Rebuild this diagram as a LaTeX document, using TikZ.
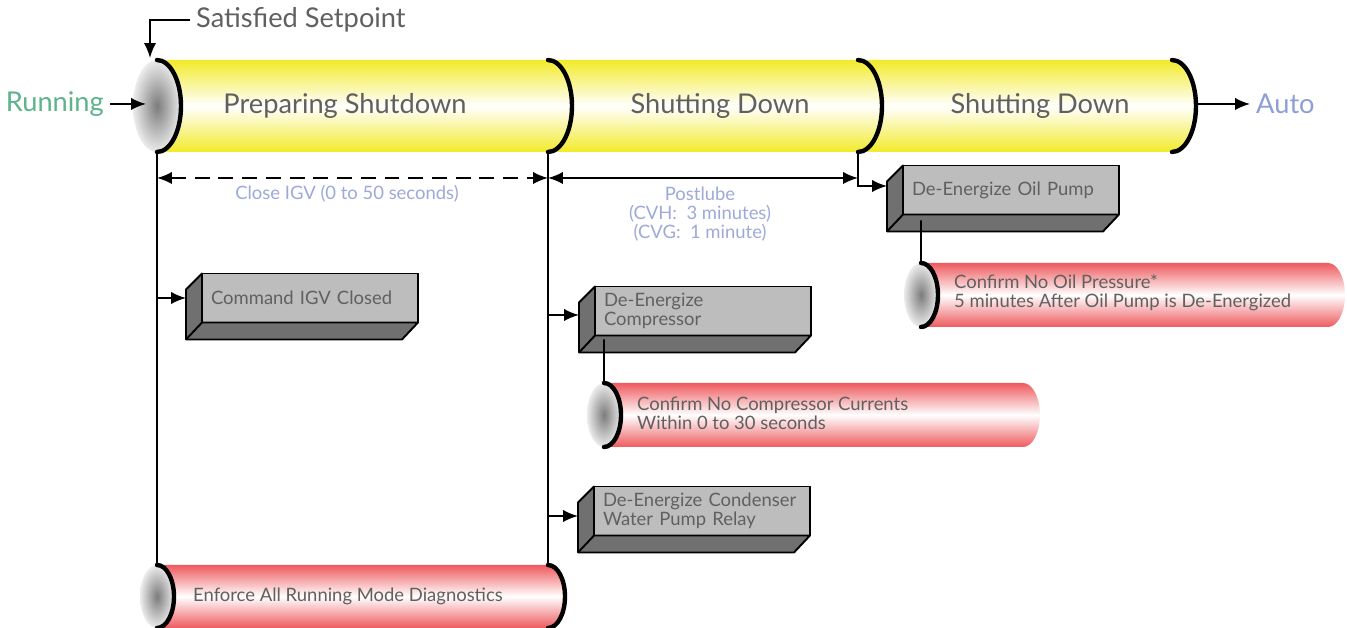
\documentclass[tikz,border=0pt]{standalone}
\usepackage{fontspec}
\setmainfont{Lato}
\usetikzlibrary{arrows.meta,positioning}
\definecolor{SDYellow}{HTML}{F2EA2A}
\definecolor{SDRed}{HTML}{EE5A5E}
\definecolor{SDCap}{HTML}{7C7C7C}
\definecolor{SDFront}{HTML}{BDBDBD}
\definecolor{SDSide}{HTML}{707070}
\definecolor{SDText}{HTML}{606060}
\definecolor{SDGreen}{HTML}{5DB38A}
\definecolor{SDBlue}{HTML}{8E9ED6}
\definecolor{SDNote}{HTML}{9DA9D8}
\begin{document}
\begin{tikzpicture}[x=0.02cm,y=0.02cm,
      >={Latex[length=8.5pt,width=7pt]},
      link/.style={->,line width=1pt},
      wire/.style={line width=1pt},
      rim/.style={line width=2.5pt,line cap=round},
      pipeY/.style={top color=SDYellow,bottom color=SDYellow,middle color=white},
      pipeR/.style={top color=SDRed,bottom color=SDRed,middle color=white},
      capshade/.style={inner color=SDCap,outer color=SDCap!15},
      boxfront/.style={draw,line width=1.1pt,fill=SDFront,outer sep=0pt,
        minimum width=4.32cm,minimum height=0.98cm,inner xsep=0.18cm,
        text width=3.96cm,align=left,font=\fontsize{10.5}{11}\selectfont,text=SDText},
      boxdepth/.style={draw,line width=1.1pt,fill=SDSide,line join=round},
      phasetext/.style={font=\fontsize{15.5}{18}\selectfont,text=SDText},
      notetext/.style={font=\fontsize{10.5}{11}\selectfont,text=SDNote,align=center},
      pipetext/.style={font=\fontsize{10.5}{11}\selectfont,text=SDText,align=left,anchor=west}
    ]
    \useasboundingbox (0,0) rectangle (1347,628);

    % top pipe
    \shade[pipeY] (157,568) -- (1172,568) arc[start angle=90,end angle=-90,x radius=24,y radius=46]
      -- (157,476) arc[start angle=-90,end angle=90,x radius=24,y radius=46] -- cycle;
    \shade[capshade] (157,522) ellipse [x radius=24,y radius=46];
    \foreach \x in {157,548,858,1172}
      \draw[rim] (\x,568) arc[start angle=90,end angle=-90,x radius=24,y radius=46];
    \node[phasetext] (prep) at (345,522) {Preparing Shutdown};
    \node[phasetext] (shut1) at (720,522) {Shutting Down};
    \node[phasetext] (shut2) at (1040,522) {Shutting Down};

    \coordinate (capTop) at (150,570);
    \coordinate (capMid) at (146,524);
    \coordinate (endMid) at (1196,524);
    \node[phasetext,anchor=west] (setpt) at (190,608) {Satisfied Setpoint};
    \node[phasetext,anchor=east,text=SDGreen] (run) at (110,524) {Running};
    \node[phasetext,anchor=west,text=SDBlue] (auto) at (1250,524) {Auto};
    \draw[link] (setpt.west) -| (capTop);
    \draw[link] (run.east) -- (capMid);
    \draw[link] (endMid) -- (auto.west);

    % time spans
    \coordinate (lineL) at (157,476);
    \coordinate (lineM) at (548,476);
    \coordinate (lineR) at (858,476);
    \draw[<->,line width=1pt,dash pattern=on 8.5pt off 5pt] (157,450) -- (548,450);
    \draw[<->,line width=1pt] (548,450) -- (858,450);
    \node[notetext] (igvnote) at (347,434) {Close IGV (0 to 50 seconds)};
    \node[notetext] (lubenote) at (700,414) {Postlube\\(CVH:~~3 minutes)\\(CVG:~~1 minute)};

    % actions
    \node[boxfront] (cmd) at (310,330) {Command IGV Closed};
    \node[boxfront] (comp) at (703,317) {De-Energize\\Compressor};
    \node[boxfront] (cond) at (702,117) {De-Energize Condenser\\Water Pump Relay};
    \node[boxfront] (oil) at (1011,438) {De-Energize Oil Pump};
    \foreach \b in {cmd,comp,cond,oil}{
      \draw[boxdepth] (\b.north west) -- ++(-16,-16) -- ([shift={(-16,-17)}]\b.south west)
        -- ([shift={(-16,-17)}]\b.south east) -- (\b.south east) -- (\b.south west) -- cycle;
      \draw[boxdepth] (\b.south west) -- ++(-16,-17);
    }

    % checks
    \shade[pipeR] (921,365) -- (1328,365) arc[start angle=90,end angle=-90,x radius=17,y radius=32]
      -- (921,301) arc[start angle=-90,end angle=90,x radius=17,y radius=32] -- cycle;
    \shade[capshade] (921,333) ellipse [x radius=17,y radius=32];
    \draw[rim] (921,365) arc[start angle=90,end angle=-90,x radius=17,y radius=32];
    \node[pipetext] (oilchk) at (948,335) {Confirm No Oil Pressure*\\5 minutes After Oil Pump is De-Energized};

    \shade[pipeR] (604,245) -- (1023,245) arc[start angle=90,end angle=-90,x radius=17,y radius=32]
      -- (604,181) arc[start angle=-90,end angle=90,x radius=17,y radius=32] -- cycle;
    \shade[capshade] (604,213) ellipse [x radius=17,y radius=32];
    \draw[rim] (604,245) arc[start angle=90,end angle=-90,x radius=17,y radius=32];
    \node[pipetext] (compchk) at (631,215) {Confirm No Compressor Currents\\Within 0 to 30 seconds};

    \shade[pipeR] (157,63) -- (548,63) arc[start angle=90,end angle=-90,x radius=17,y radius=31.5]
      -- (157,0) arc[start angle=-90,end angle=90,x radius=17,y radius=31.5] -- cycle;
    \shade[capshade] (157,31.5) ellipse [x radius=17,y radius=31.5];
    \draw[rim] (157,63) arc[start angle=90,end angle=-90,x radius=17,y radius=31.5];
    \draw[rim] (548,63) arc[start angle=90,end angle=-90,x radius=17,y radius=31.5];
    \node[pipetext] (diag) at (187,32) {Enforce All Running Mode Diagnostics};
    \coordinate (diagL) at (157,63);
    \coordinate (diagR) at (548,63);

    % connectors
    \draw[wire] (lineL) -- (diagL);
    \draw[wire] (lineM) -- (diagR);
    \draw[link] (cmd.west -| lineL) -- ([xshift=-0.32cm]cmd.west);
    \draw[link] ([yshift=-0.08cm]comp.west -| lineM) -- ([shift={(-16,-4)}]comp.west);
    \draw[link] ([yshift=-0.1cm]cond.west -| lineM) -- ([shift={(-16,-5)}]cond.west);
    \draw[link] (lineR) |- ([shift={(-16,4)}]oil.west);
    \draw[wire] ([shift={(18,-6)}]oil.south west) -- (921,365);
    \draw[wire] ([shift={(9,-4)}]comp.south west) -- (604,245);
  \end{tikzpicture}
\end{document}
